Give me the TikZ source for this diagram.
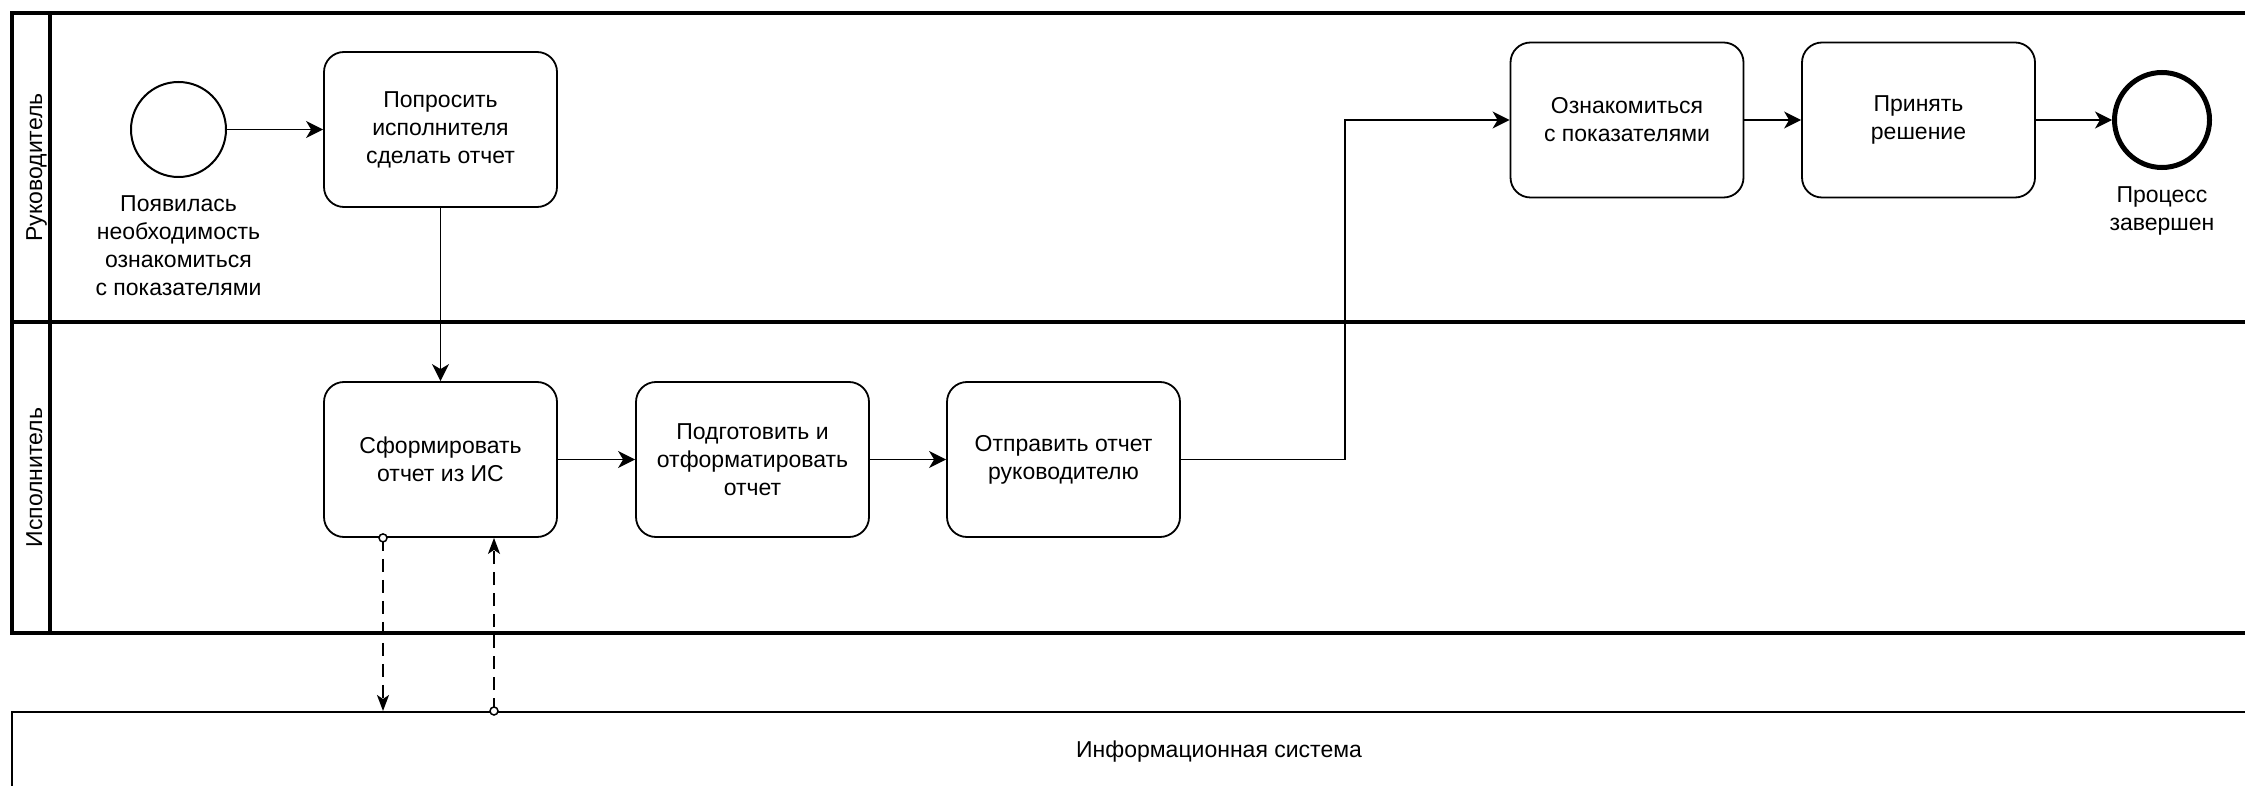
\documentclass[tikz,border=0pt]{standalone}
\usepackage{fontspec}
\setmainfont{Liberation Sans}
\usetikzlibrary{arrows.meta}
\tikzset{
  txt/.style={font=\fontsize{23}{28}\selectfont, align=center},
  task/.style={txt, draw, line width=1.8pt, rounded corners=20pt,
    minimum width=233pt, minimum height=155pt, inner sep=0pt},
  startev/.style={draw, circle, line width=2pt, minimum size=95pt, inner sep=0pt},
  endev/.style={draw, circle, line width=5pt, minimum size=95pt, inner sep=0pt},
  flow/.style={line width=1.8pt, -{Stealth[length=17pt,width=17pt,inset=5pt]}},
  dataflow/.style={line width=1.8pt, dash pattern=on 13pt off 8pt,
    -{Stealth[length=16pt,width=12pt,inset=4pt]}},
  dot/.style={draw, circle, fill=white, line width=1.5pt, minimum size=8pt, inner sep=0pt},
  poolline/.style={line width=4pt},
  lanelbl/.style={txt, rotate=90, anchor=base, inner sep=0pt},
}
\begin{document}
\begin{tikzpicture}[x=1pt,y=-1pt]
\clip (0,0) rectangle (2245,786);
\useasboundingbox (0,0) rectangle (2245,786);
\fill[white] (0,0) rectangle (2245,786);

% pool and lanes
\draw[poolline] (2270,13) -- (12,13) -- (12,633) -- (2270,633);
\draw[poolline] (12,322) -- (2270,322);
\draw[poolline] (50,13) -- (50,633);
\node[lanelbl] (lane1) at (42,167.5) {Руководитель};
\node[lanelbl] (lane2) at (42,477.5) {Исполнитель};

% information system
\node[txt, draw, line width=2pt, minimum width=2414pt, minimum height=80pt, inner sep=0pt]
  (is) at (1219,752) {Информационная система};

% events
\node[startev] (start) at (178.5,129.5) {};
\node[txt, anchor=north, inner sep=0pt] (startlbl) at (178.5,195)
  {Появилась\\необходимость\\ознакомиться\\с показателями};
\node[endev] (end) at (2162,120) {};
\node[txt, anchor=north, inner sep=0pt] (endlbl) at (2162,186) {Процесс\\завершен};

% tasks
\node[task] (t1) at (440.5,129.5) {Попросить\\исполнителя\\сделать отчет};
\node[task] (t2) at (440.5,459.5) {Сформировать\\отчет из ИС};
\node[task] (t3) at (752.5,459.5) {Подготовить и\\отформатировать\\отчет};
\node[task] (t4) at (1063.5,459.5) {Отправить отчет\\руководителю};
\node[task] (t5) at (1627,120) {Ознакомиться\\с показателями};
\node[task] (t6) at (1918.5,120) {Принять\\решение};

% sequence flows
\draw[flow] (start) -- (t1);
\draw[flow] (t1) -- (t2);
\draw[flow] (t2) -- (t3);
\draw[flow] (t3) -- (t4);
\coordinate (bend) at (1345,120);
\draw[flow] (t4.east) -| (bend) -- (t5.west);
\draw[flow] (t5) -- (t6);
\draw[flow] (t6) -- (end);

% data associations
\coordinate (d1a) at ([xshift=-57.5pt]t2.south);
\coordinate (d1b) at (d1a |- is.north);
\coordinate (d2a) at ([xshift=53.5pt]t2.south);
\coordinate (d2b) at (d2a |- is.north);
\draw[dataflow] (d1a) -- (d1b);
\draw[dataflow] (d2b) -- (d2a);
\node[dot] (dot1) at (d1a) {};
\node[dot] (dot2) at (d2b) {};
\end{tikzpicture}
\end{document}
